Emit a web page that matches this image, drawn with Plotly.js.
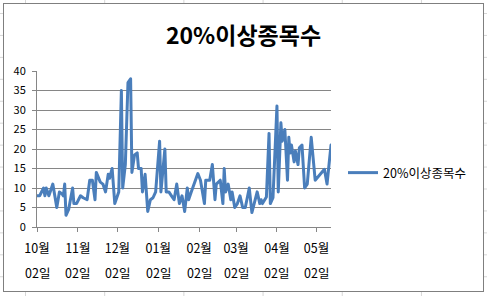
<!DOCTYPE html>
<html>
<head>
<meta charset="utf-8">
<script src="https://cdn.plot.ly/plotly-3.0.1.min.js"></script>
<style>
  html, body { margin: 0; padding: 0; }
  body {
    width: 487px; height: 296px; overflow: hidden; position: relative;
    background-color: #ffffff;
    background-image:
      linear-gradient(to right, #d6d6d6 1px, transparent 1px),
      linear-gradient(to bottom, #d6d6d6 1px, transparent 1px);
    background-size: 79.2px 100%, 100% 21.95px;
    background-position: 25px 0, 0 13px;
  }
  #box {
    position: absolute; left: 3px; top: 3px;
    width: 479px; height: 287px;
    border: 1px solid #7f7f7f; background: #ffffff;
  }
  #chart { width: 479px; height: 287px; }
  .scatterlayer .js-line { stroke-linejoin: round; stroke-linecap: round; }
</style>
</head>
<body>
<div id="box"><div id="chart"></div></div>
<script>
const seriesName = '20%이상종목수';
const titleText = '20%이상종목수';

const dates = [
  '2009-10-02','2009-10-04','2009-10-07','2009-10-08','2009-10-09','2009-10-11','2009-10-13','2009-10-14',
  '2009-10-17','2009-10-19','2009-10-21','2009-10-22','2009-10-23','2009-10-24','2009-10-26','2009-10-29',
  '2009-10-30','2009-11-01','2009-11-04','2009-11-06','2009-11-09','2009-11-11','2009-11-13','2009-11-15',
  '2009-11-16','2009-11-19','2009-11-21','2009-11-23','2009-11-25','2009-11-26','2009-11-28','2009-11-30',
  '2009-12-03','2009-12-05','2009-12-06','2009-12-08','2009-12-10','2009-12-12','2009-12-13','2009-12-15',
  '2009-12-17','2009-12-18','2009-12-20','2009-12-21','2009-12-23','2009-12-25','2009-12-27','2009-12-29',
  '2009-12-31','2010-01-03','2010-01-04','2010-01-07','2010-01-08','2010-01-10','2010-01-12','2010-01-14',
  '2010-01-16','2010-01-18','2010-01-20','2010-01-22','2010-01-24','2010-01-25','2010-01-27','2010-02-01',
  '2010-02-03','2010-02-06','2010-02-07','2010-02-10','2010-02-12','2010-02-14','2010-02-15','2010-02-18',
  '2010-02-20','2010-02-21','2010-02-22','2010-02-24','2010-02-26','2010-02-27','2010-03-01','2010-03-03',
  '2010-03-05','2010-03-07','2010-03-09','2010-03-11','2010-03-12','2010-03-14','2010-03-16','2010-03-18',
  '2010-03-20','2010-03-21','2010-03-22','2010-03-25','2010-03-27','2010-03-28','2010-03-30','2010-04-02',
  '2010-04-03','2010-04-05','2010-04-06','2010-04-08','2010-04-10','2010-04-11','2010-04-12','2010-04-13',
  '2010-04-15','2010-04-16','2010-04-18','2010-04-19','2010-04-21','2010-04-23','2010-04-25','2010-04-28',
  '2010-05-01','2010-05-05','2010-05-08','2010-05-10','2010-05-13'
];

const counts = [
  8, 8, 10, 8, 10, 8, 10, 11,
  5, 9, 8.5, 8, 11, 3, 4.5, 10,
  6, 6, 8, 7.5, 7, 12, 12, 7,
  14, 11.5, 11, 9, 13.5, 12.5, 15, 6,
  9, 35, 10, 16, 37, 38, 14, 18.5,
  19, 15, 15, 9, 13.5, 4, 7, 7.5,
  9, 22, 9, 20, 9, 9, 8, 7,
  11, 6, 8, 4, 10, 7, 9, 13.7,
  12, 6, 12, 12, 16, 7, 11, 12,
  6, 15, 9, 11, 7, 9, 5, 6,
  8, 5, 5, 8, 10, 3.7, 6.7, 9,
  6, 7, 6, 7.7, 24, 6, 7.5, 31,
  9, 26.7, 22, 25, 12, 23, 19, 21,
  16.7, 19.5, 16, 20.3, 21, 10, 11, 23,
  12, 13.7, 14.8, 11, 21
];

const tickDates = ['2009-10-02','2009-11-02','2009-12-02','2010-01-02','2010-02-02','2010-03-02','2010-04-02','2010-05-02'];
const monthLabels = ['10월','11월','12월','01월','02월','03월','04월','05월'];
const dayLabels = ['02일','02일','02일','02일','02일','02일','02일','02일'];

const FONT = '"Noto Sans CJK KR", "Noto Sans", sans-serif';
const AXIS_GRAY = '#868686';

const trace = {
  type: 'scatter',
  mode: 'lines',
  x: dates,
  y: counts,
  name: seriesName,
  line: { color: '#4a7ebb', width: 3 },
  showlegend: true
};

const annotations = tickDates.map((d, i) => ({
  x: d, xref: 'x',
  y: -0.293, yref: 'paper',
  text: dayLabels[i],
  showarrow: false,
  xanchor: 'center', yanchor: 'middle',
  font: { family: FONT, size: 12.5, color: '#000000' }
}));

const layout = {
  width: 479, height: 287,
  margin: { l: 33, r: 152, t: 67, b: 64, pad: 0 },
  paper_bgcolor: 'rgba(0,0,0,0)',
  plot_bgcolor: 'rgba(0,0,0,0)',
  title: {
    text: '<b>' + titleText + '</b>',
    font: { family: FONT, size: 23, color: '#000000' },
    x: 0.5, xref: 'container', xanchor: 'center',
    y: 0.888, yref: 'container', yanchor: 'middle'
  },
  xaxis: {
    type: 'date',
    range: [dates[0], dates[dates.length - 1]],
    tickmode: 'array',
    tickvals: tickDates,
    ticktext: monthLabels,
    ticks: 'outside', ticklen: 4, tickcolor: AXIS_GRAY, tickwidth: 1,
    ticklabelstandoff: 6,
    showline: true, linecolor: AXIS_GRAY, linewidth: 1,
    showgrid: false, zeroline: false,
    tickfont: { family: FONT, size: 12.5, color: '#000000' }
  },
  yaxis: {
    range: [0, 40],
    tick0: 0, dtick: 5,
    ticks: 'outside', ticklen: 4, tickcolor: AXIS_GRAY, tickwidth: 1,
    ticklabelstandoff: 4,
    showline: true, linecolor: AXIS_GRAY, linewidth: 1,
    showgrid: true, gridcolor: AXIS_GRAY, gridwidth: 1,
    zeroline: false,
    tickfont: { family: FONT, size: 11, color: '#000000' }
  },
  legend: {
    x: 339 / 479, xref: 'container', xanchor: 'left',
    y: 1 - 169 / 287, yref: 'container', yanchor: 'middle',
    font: { family: FONT, size: 12.5, color: '#000000' },
    bgcolor: 'rgba(0,0,0,0)', borderwidth: 0
  },
  annotations: annotations
};

Plotly.newPlot('chart', [trace], layout, { staticPlot: true, displayModeBar: false });
</script>
</body>
</html>
